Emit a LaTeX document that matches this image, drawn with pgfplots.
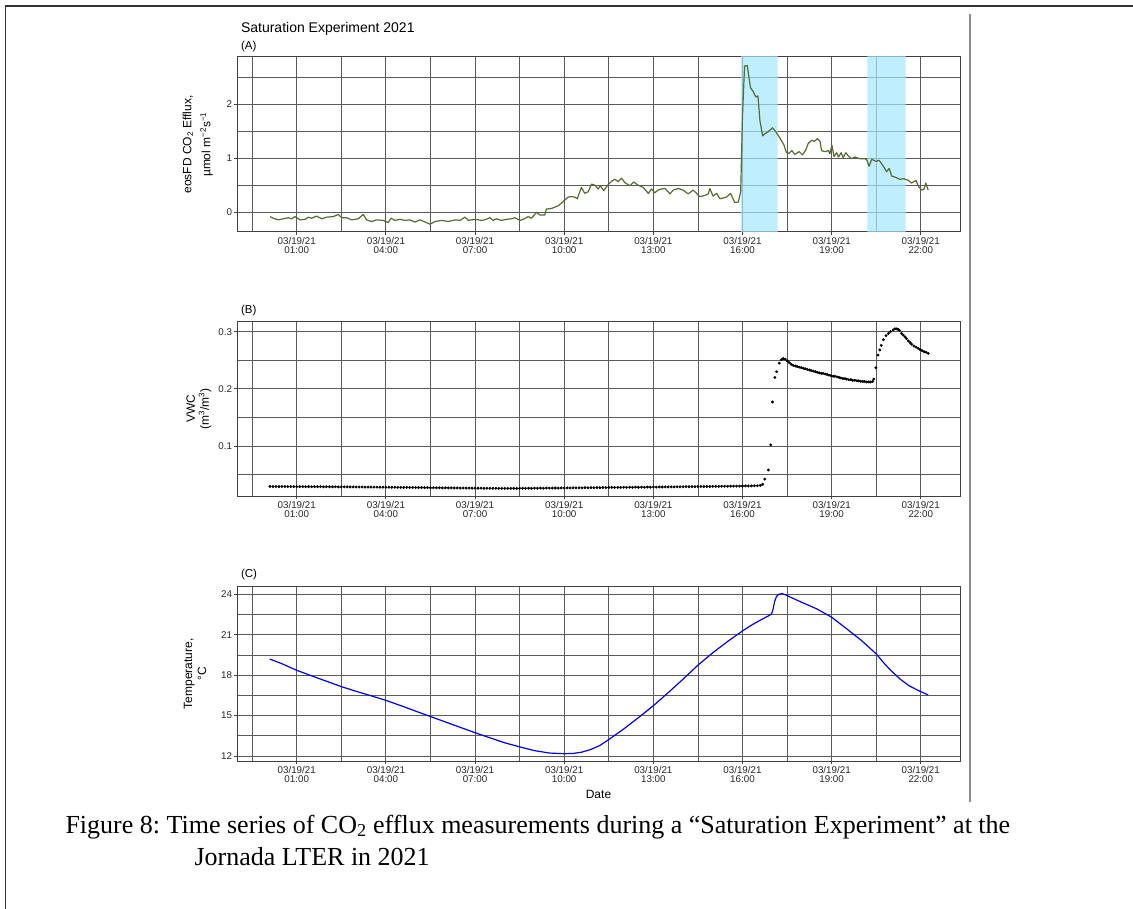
\documentclass[border=0pt]{standalone}
\usepackage{fontspec}
\setmainfont{Liberation Sans}
\newfontfamily\capfont{Liberation Serif}
\usepackage{pgfplots}
\pgfplotsset{compat=1.18}
\frenchspacing
\definecolor{olivel}{HTML}{556B2F}
\definecolor{shade}{RGB}{164,232,255}
\definecolor{gridc}{HTML}{5A5A5A}

\pgfplotsset{
  panel/.style={
    scale only axis, width=723pt,
    anchor=south west,
    xmin=-1.01, xmax=23.32,
    xtick={1,4,7,10,13,16,19,22},
    xticklabels={{03/19/21\\01:00},{03/19/21\\04:00},{03/19/21\\07:00},{03/19/21\\10:00},
                 {03/19/21\\13:00},{03/19/21\\16:00},{03/19/21\\19:00},{03/19/21\\22:00}},
    minor xtick={-0.5,2.5,5.5,8.5,11.5,14.5,17.5,20.5},
    grid=both,
    major grid style={gridc, line width=0.8pt},
    minor grid style={gridc, line width=0.8pt},
    tick align=outside, tick pos=left,
    major tick length=3pt, minor tick length=0pt,
    axis line style={black!75, line width=1pt},
    tick style={black!75, line width=0.8pt},
    ticklabel style={font=\fontsize{9.8}{9.7}\selectfont, text=black!85, inner sep=1.8pt},
    xticklabel style={align=center},
    /pgf/number format/assume math mode=true,
    ylabel style={align=center, font=\fontsize{12}{14}\selectfont, inner sep=0pt,
                  at={(axis description cs:0,0.5)}, anchor=south},
  }
}

\begin{document}
\begin{tikzpicture}
\path[use as bounding box] (0pt,0pt) rectangle (1133pt,-909pt);
\draw[black!80, line width=1.2pt] (1133pt,-6pt) -- (5.5pt,-6pt) -- (5.5pt,-909pt);
\draw[black!45, line width=1.6pt] (970pt,-14pt) -- (970pt,-802pt);

\node[anchor=base west, font=\fontsize{14}{14}\selectfont] at (237.5pt,-32.5pt) {Saturation Experiment 2021};
\node[anchor=base west, font=\fontsize{11.5}{12}\selectfont] at (237.5pt,-49.5pt) {(A)};
\node[anchor=base west, font=\fontsize{11.5}{12}\selectfont] at (237.5pt,-313.5pt) {(B)};
\node[anchor=base west, font=\fontsize{11.5}{12}\selectfont] at (237.5pt,-577pt) {(C)};
\node[anchor=base, font=\fontsize{12}{12}\selectfont] at (598.5pt,-798.5pt) {Date};

% (A) CO2 efflux
\begin{axis}[panel, at={(237pt,-232pt)}, height=175pt,
  ymin=-0.364, ymax=2.868, ytick={0,1,2}, minor ytick={0.5,1.5,2.5},
  ylabel={eosFD CO\textsubscript{2} Efflux,\\[5pt]µmol m\textsuperscript{−2}s\textsuperscript{−1}},
  ylabel style={yshift=24pt}]
\addplot[fill=shade, fill opacity=0.7, draw=none] coordinates {(15.95,-1)(17.18,-1)(17.18,3)(15.95,3)(15.95,-1)};
\addplot[fill=shade, fill opacity=0.7, draw=none] coordinates {(20.20,-1)(21.49,-1)(21.49,3)(20.20,3)(20.20,-1)};
\addplot[olivel, line width=1.2pt, line join=round] coordinates {
(0.10,-0.08)(0.21,-0.11)(0.38,-0.14)(0.55,-0.12)(0.72,-0.10)(0.83,-0.12)(0.94,-0.08)(1.11,-0.14)
(1.28,-0.13)(1.39,-0.09)(1.50,-0.11)(1.67,-0.07)(1.84,-0.12)(2.01,-0.09)(2.23,-0.08)(2.40,-0.04)
(2.51,-0.10)(2.68,-0.10)(2.85,-0.14)(3.07,-0.12)(3.24,-0.04)(3.35,-0.14)(3.52,-0.17)(3.69,-0.14)
(3.91,-0.15)(4.08,-0.19)(4.17,-0.11)(4.31,-0.15)(4.48,-0.13)(4.64,-0.15)(4.81,-0.14)(4.98,-0.18)
(5.15,-0.14)(5.32,-0.18)(5.49,-0.22)(5.65,-0.17)(5.88,-0.15)(6.10,-0.17)(6.33,-0.14)(6.50,-0.15)
(6.66,-0.09)(6.78,-0.15)(7.00,-0.13)(7.22,-0.15)(7.33,-0.14)(7.50,-0.10)(7.61,-0.15)(7.72,-0.12)
(7.89,-0.15)(8.06,-0.13)(8.23,-0.12)(8.34,-0.10)(8.51,-0.15)(8.62,-0.13)(8.79,-0.08)(8.90,-0.11)
(9.07,0.00)(9.18,-0.05)(9.35,-0.05)(9.40,0.06)(9.57,0.07)(9.80,0.12)(9.97,0.20)(10.13,0.28)
(10.25,0.29)(10.36,0.28)(10.44,0.25)(10.58,0.46)(10.69,0.35)(10.81,0.38)(10.92,0.52)(11.03,0.50)
(11.14,0.43)(11.22,0.49)(11.33,0.40)(11.48,0.51)(11.59,0.57)(11.70,0.61)(11.82,0.57)(11.93,0.63)
(12.04,0.55)(12.21,0.49)(12.34,0.56)(12.49,0.50)(12.66,0.46)(12.83,0.35)(12.94,0.43)(13.05,0.36)
(13.16,0.41)(13.27,0.43)(13.39,0.44)(13.56,0.34)(13.67,0.41)(13.84,0.44)(14.00,0.41)(14.17,0.34)
(14.34,0.41)(14.57,0.29)(14.73,0.31)(14.85,0.34)(14.90,0.44)(15.01,0.30)(15.13,0.35)(15.24,0.25)
(15.46,0.28)(15.60,0.35)(15.74,0.18)(15.86,0.19)(15.94,0.38)(16.00,1.77)(16.07,2.70)(16.16,2.71)
(16.27,2.30)(16.36,2.23)(16.45,2.13)(16.52,2.15)(16.59,1.68)(16.68,1.41)(16.75,1.45)(16.87,1.49)
(17.01,1.56)(17.12,1.49)(17.26,1.37)(17.39,1.25)(17.48,1.10)(17.57,1.09)(17.66,1.14)(17.76,1.07)
(17.91,1.12)(18.02,1.06)(18.13,1.15)(18.21,1.27)(18.33,1.33)(18.42,1.31)(18.52,1.36)(18.61,1.31)
(18.66,1.14)(18.77,1.12)(18.89,1.14)(18.94,1.08)(19.01,1.24)(19.08,1.03)(19.17,1.10)(19.23,1.02)
(19.32,1.10)(19.39,1.01)(19.48,1.10)(19.56,1.04)(19.67,0.99)(19.78,1.02)(19.95,0.99)(20.12,0.99)
(20.18,0.97)(20.26,0.85)(20.35,0.98)(20.49,0.94)(20.60,0.96)(20.74,0.85)(20.85,0.75)(20.94,0.81)
(21.02,0.67)(21.13,0.65)(21.30,0.61)(21.43,0.62)(21.58,0.59)(21.69,0.54)(21.84,0.59)(21.92,0.48)
(22.03,0.41)(22.11,0.43)(22.17,0.54)(22.25,0.41)};
\end{axis}

% (B) VWC
\begin{axis}[panel, at={(237pt,-496pt)}, height=174.3pt,
  ymin=0.0125, ymax=0.3175, ytick={0.1,0.2,0.3}, minor ytick={0.05,0.15,0.25},
  yticklabel style={/pgf/number format/fixed},
  ylabel={VWC\\(m\textsuperscript{3}/m\textsuperscript{3})},
  ylabel style={yshift=25.5pt}]
\addplot[only marks, mark=*, mark size=1.25pt, black] coordinates {
(0.1,.0292)(0.2,.0290)(0.3,.0291)(0.4,.0289)(0.5,.0290)(0.6,.0291)(0.7,.0289)(0.8,.0290)(0.9,.0289)(1.0,.0290)
(1.1,.0288)(1.2,.0289)(1.3,.0288)(1.4,.0289)(1.5,.0287)(1.6,.0288)(1.7,.0287)(1.8,.0288)(1.9,.0286)(2.0,.0287)
(2.1,.0286)(2.2,.0285)(2.3,.0286)(2.4,.0284)(2.5,.0285)(2.6,.0284)(2.7,.0285)(2.8,.0283)(2.9,.0284)(3.0,.0283)
(3.1,.0282)(3.2,.0283)(3.3,.0281)(3.4,.0282)(3.5,.0280)(3.6,.0281)(3.7,.0280)(3.8,.0279)(3.9,.0280)(4.0,.0278)
(4.1,.0279)(4.2,.0277)(4.3,.0278)(4.4,.0276)(4.5,.0277)(4.6,.0275)(4.7,.0276)(4.8,.0274)(4.9,.0275)(5.0,.0273)
(5.1,.0272)(5.2,.0273)(5.3,.0270)(5.4,.0271)(5.5,.0269)(5.6,.0270)(5.7,.0268)(5.8,.0269)(5.9,.0267)(6.0,.0268)
(6.1,.0266)(6.2,.0267)(6.3,.0265)(6.4,.0266)(6.5,.0264)(6.6,.0265)(6.7,.0263)(6.8,.0264)(6.9,.0262)(7.0,.0263)
(7.1,.0261)(7.2,.0262)(7.3,.0260)(7.4,.0261)(7.5,.0260)(7.6,.0259)(7.7,.0260)(7.8,.0258)(7.9,.0259)(8.0,.0258)
(8.1,.0259)(8.2,.0258)(8.3,.0259)(8.4,.0258)(8.5,.0259)(8.6,.0260)(8.7,.0259)(8.8,.0261)(8.9,.0260)(9.0,.0262)
(9.1,.0261)(9.2,.0263)(9.3,.0262)(9.4,.0264)(9.5,.0263)(9.6,.0264)(9.7,.0265)(9.8,.0264)(9.9,.0266)(10.0,.0265)
(10.1,.0267)(10.2,.0266)(10.3,.0268)(10.4,.0267)(10.5,.0269)(10.6,.0268)(10.7,.0270)(10.8,.0269)(10.9,.0271)(11.0,.0270)
(11.1,.0272)(11.2,.0271)(11.3,.0273)(11.4,.0272)(11.5,.0274)(11.6,.0275)(11.7,.0274)(11.8,.0276)(11.9,.0275)(12.0,.0277)
(12.1,.0276)(12.2,.0278)(12.3,.0277)(12.4,.0279)(12.5,.0278)(12.6,.0280)(12.7,.0279)(12.8,.0281)(12.9,.0280)(13.0,.0282)
(13.1,.0281)(13.2,.0283)(13.3,.0282)(13.4,.0284)(13.5,.0283)(13.6,.0285)(13.7,.0284)(13.8,.0286)(13.9,.0285)(14.0,.0287)
(14.1,.0288)(14.2,.0287)(14.3,.0289)(14.4,.0288)(14.5,.0290)(14.6,.0291)(14.7,.0290)(14.8,.0292)(14.9,.0291)(15.0,.0293)
(15.1,.0294)(15.2,.0293)(15.3,.0295)(15.4,.0296)(15.5,.0295)(15.6,.0297)(15.7,.0298)(15.8,.0297)(15.9,.0299)(16.0,.0300)
(16.1,.0301)(16.2,.0300)(16.3,.0302)(16.4,.0303)(16.5,.0305)(16.6,.0310)(16.68,.0330)
(16.75,.042)(16.87,.058)(16.95,.102)(17.01,.177)(17.09,.220)(17.15,.230)(17.24,.245)(17.31,.251)
(17.37,.253)(17.44,.252)(17.51,.249)(17.57,.246)(17.64,.243)(17.71,.241)(17.78,.240)(17.84,.239)
(17.91,.238)(17.98,.237)(18.05,.236)(18.11,.235)(18.18,.234)(18.25,.233)(18.31,.232)(18.38,.231)
(18.45,.230)(18.51,.229)(18.58,.228)(18.65,.227)(18.71,.227)(18.78,.226)(18.85,.225)(18.91,.224)
(18.98,.223)(19.05,.222)(19.11,.222)(19.18,.221)(19.25,.220)(19.31,.219)(19.38,.218)(19.45,.218)
(19.51,.217)(19.58,.216)(19.65,.216)(19.71,.215)(19.78,.215)(19.85,.214)(19.91,.214)(19.98,.213)
(20.05,.213)(20.11,.213)(20.18,.212)(20.25,.212)(20.31,.212)(20.38,.213)(20.42,.217)(20.49,.237)
(20.56,.259)(20.62,.268)(20.67,.276)(20.74,.286)(20.83,.293)(20.91,.297)(20.98,.300)(21.07,.303)
(21.13,.305)(21.19,.305)(21.24,.304)(21.28,.302)(21.35,.297)(21.41,.294)(21.47,.291)(21.52,.288)
(21.58,.284)(21.64,.281)(21.69,.278)(21.77,.275)(21.84,.273)(21.91,.271)(21.97,.269)(22.04,.267)
(22.11,.265)(22.18,.264)(22.25,.262)};
\end{axis}

% (C) temperature
\begin{axis}[panel, at={(237pt,-761pt)}, height=174.3pt,
  ymin=11.629, ymax=24.564, ytick={12,15,18,21,24}, minor ytick={13.5,16.5,19.5,22.5},
  ylabel={Temperature,\\°C},
  ylabel style={yshift=30.5pt}]
\addplot[blue, line width=1.2pt, line join=round] coordinates {
(0.09,19.20)(0.5,18.85)(1.0,18.36)(1.5,17.95)(2.0,17.55)(2.5,17.15)(3.0,16.80)(3.5,16.47)
(4.0,16.13)(4.5,15.74)(5.0,15.33)(5.5,14.93)(6.0,14.53)(6.5,14.13)(7.0,13.73)(7.5,13.35)
(8.0,12.98)(8.5,12.68)(9.0,12.40)(9.5,12.22)(10.0,12.17)(10.3,12.19)(10.6,12.29)(10.9,12.49)
(11.2,12.78)(11.5,13.22)(12.0,14.00)(12.5,14.85)(13.0,15.73)(13.5,16.70)(14.0,17.70)(14.5,18.74)
(15.0,19.66)(15.5,20.50)(16.0,21.28)(16.3,21.71)(16.6,22.08)(16.9,22.43)(16.98,22.55)(17.03,22.90)
(17.08,23.45)(17.14,23.82)(17.22,24.00)(17.32,24.05)(17.45,23.96)(17.6,23.80)(18.0,23.40)(18.5,22.92)
(19.0,22.30)(19.5,21.45)(20.0,20.58)(20.5,19.58)(20.8,18.80)(21.0,18.33)(21.3,17.72)(21.6,17.22)
(21.9,16.88)(22.25,16.53)};
\end{axis}

\node[anchor=base west, font=\capfont\fontsize{26}{30}\selectfont] at (62pt,-833pt)
  {Figure 8: Time series of CO\textsubscript{2} efflux measurements during a “Saturation Experiment” at the};
\node[anchor=base west, font=\capfont\fontsize{26}{30}\selectfont] at (191pt,-865pt) {Jornada LTER in 2021};
\end{tikzpicture}
\end{document}
